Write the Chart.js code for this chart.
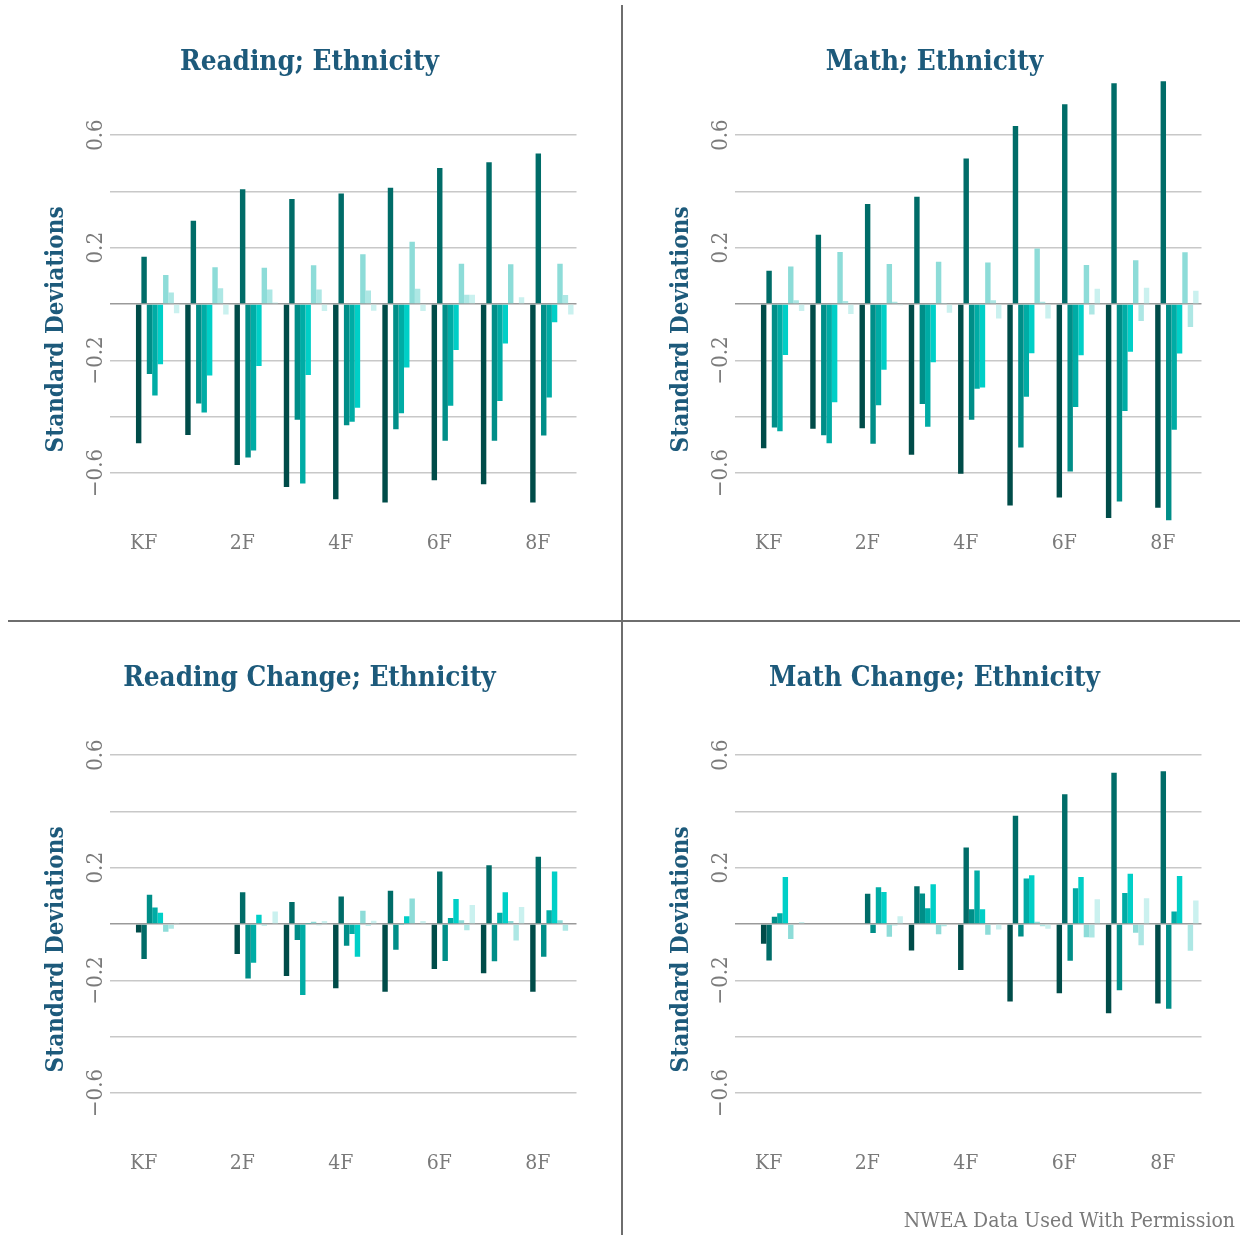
<!DOCTYPE html>
<html><head><meta charset="utf-8">
<script src="https://cdn.jsdelivr.net/npm/chart.js@4.4.1/dist/chart.umd.min.js"></script>
<style>
html,body{margin:0;padding:0;background:#fff;width:1244px;height:1235px;overflow:hidden;position:relative}
canvas{position:absolute}
.vline{position:absolute;left:621px;top:5px;width:2px;height:1230px;background:#6e6e6e;z-index:5}
.hline{position:absolute;left:8px;top:620px;width:1232px;height:2px;background:#6e6e6e;z-index:5}
.credit{position:absolute;right:9px;top:1208px;font-family:"DejaVu Serif Condensed","DejaVu Serif",serif;font-size:21px;color:#7a7a7a;white-space:nowrap}
</style></head><body>
<canvas id="c1" width="619" height="620" style="left:0;top:0"></canvas>
<canvas id="c2" width="619" height="620" style="left:625px;top:0"></canvas>
<canvas id="c3" width="619" height="620" style="left:0;top:620px"></canvas>
<canvas id="c4" width="619" height="620" style="left:625px;top:620px"></canvas>
<div class="vline"></div><div class="hline"></div>
<div class="credit">NWEA Data Used With Permission</div>
<script>
const categories = ['KF','1F','2F','3F','4F','5F','6F','7F','8F'];
const seriesNames = ['Group 1','Group 2','Group 3','Group 4','Group 5','Group 6','Group 7','Group 8'];
const seriesColors = ['#004c49','#006c68','#008e88','#00aca5','#00cfc7','#8ddcd8','#ade7e4','#caf1ef'];
const gridValues = [-0.6,-0.4,-0.2,0,0.2,0.4,0.6];
const labeledTicks = [-0.6,-0.2,0.2,0.6];

const readingEthnicity = [
  [-0.494,-0.465,-0.572,-0.650,-0.693,-0.705,-0.626,-0.640,-0.705],
  [0.168,0.296,0.408,0.373,0.393,0.413,0.483,0.504,0.535],
  [-0.248,-0.353,-0.545,-0.411,-0.430,-0.445,-0.485,-0.485,-0.467],
  [-0.325,-0.385,-0.520,-0.637,-0.418,-0.388,-0.361,-0.344,-0.332],
  [-0.214,-0.254,-0.220,-0.252,-0.368,-0.225,-0.163,-0.140,-0.065],
  [0.103,0.131,0.129,0.138,0.177,0.221,0.143,0.141,0.143],
  [0.041,0.056,0.052,0.052,0.048,0.054,0.033,0.000,0.032],
  [-0.033,-0.037,0.006,-0.025,-0.024,-0.025,0.033,0.024,-0.037]
];
const mathEthnicity = [
  [-0.512,-0.443,-0.441,-0.535,-0.603,-0.715,-0.687,-0.760,-0.723],
  [0.118,0.246,0.355,0.381,0.517,0.632,0.710,0.784,0.791],
  [-0.438,-0.466,-0.496,-0.355,-0.411,-0.509,-0.595,-0.701,-0.768],
  [-0.452,-0.494,-0.359,-0.436,-0.301,-0.329,-0.366,-0.380,-0.446],
  [-0.181,-0.349,-0.233,-0.207,-0.296,-0.175,-0.182,-0.169,-0.176],
  [0.133,0.185,0.142,0.150,0.148,0.197,0.139,0.156,0.184],
  [0.014,0.011,0.008,0.004,0.014,0.008,-0.037,-0.060,-0.081],
  [-0.025,-0.035,-0.004,-0.031,-0.051,-0.051,0.054,0.058,0.047]
];
const readingChange = [
  [-0.030,null,-0.106,-0.184,-0.228,-0.240,-0.160,-0.175,-0.240],
  [-0.124,null,0.113,0.078,0.098,0.118,0.187,0.209,0.239],
  [0.104,null,-0.193,-0.057,-0.077,-0.091,-0.131,-0.132,-0.116],
  [0.059,null,-0.137,-0.252,-0.035,-0.003,0.022,0.040,0.049],
  [0.040,null,0.033,0.004,-0.116,0.028,0.089,0.113,0.187],
  [-0.027,null,-0.005,0.008,0.047,0.091,0.014,0.011,0.014],
  [-0.017,null,0.000,-0.004,-0.006,0.000,-0.022,-0.058,-0.024],
  [0.004,null,0.045,0.011,0.012,0.011,0.068,0.061,0.000]
];
const mathChange = [
  [-0.070,null,0.003,-0.094,-0.163,-0.275,-0.246,-0.317,-0.282],
  [-0.129,null,0.108,0.134,0.272,0.385,0.461,0.537,0.543],
  [0.026,null,-0.032,0.109,0.053,-0.044,-0.130,-0.235,-0.301],
  [0.038,null,0.131,0.056,0.190,0.162,0.127,0.110,0.045],
  [0.167,null,0.114,0.141,0.053,0.173,0.167,0.179,0.171],
  [-0.053,null,-0.045,-0.036,-0.038,0.008,-0.047,-0.031,0.000],
  [0.000,null,-0.005,-0.008,0.000,-0.008,-0.048,-0.075,-0.095],
  [0.007,null,0.028,0.000,-0.019,-0.017,0.088,0.092,0.084]
];

const titleColor = '#1d5a7b';
const titleFont = "'DejaVu Serif Condensed','DejaVu Serif',serif";
const tickFont = "'DejaVu Serif Condensed','DejaVu Serif',serif";
const tickColor = '#7a7a7a';

function fmt(v){ const s = Math.abs(v).toFixed(1); return v < 0 ? '\u2212' + s : s; }

function makeChart(id, series, title, titleTop) {
  new Chart(document.getElementById(id), {
    type: 'bar',
    data: {
      labels: categories,
      datasets: series.map((d, i) => ({
        label: seriesNames[i], data: d, backgroundColor: seriesColors[i],
        borderWidth: 0, categoryPercentage: 0.88, barPercentage: 1
      }))
    },
    options: {
      responsive: false, animation: false, devicePixelRatio: 1,
      layout: { padding: { left: 42.5, right: 42.5, top: 0, bottom: 40 } },
      plugins: {
        legend: { display: false }, tooltip: { enabled: false },
        title: { display: true, text: title, color: titleColor,
          font: { family: titleFont, size: 27.6, weight: 'bold', lineHeight: 1.2 },
          padding: { top: titleTop, bottom: 78.8 - titleTop - 33.1 } }
      },
      scales: {
        x: {
          grid: { display: false, drawTicks: false }, border: { display: false },
          ticks: { autoSkip: false, maxRotation: 0, minRotation: 0, mirror: true, padding: 24, labelOffset: -14,
            color: tickColor, font: { family: tickFont, size: 21 },
            callback: (v, i) => (i % 2 === 0 ? categories[i] : '') },
          afterFit: s => { s.height = 0; }
        },
        y: {
          min: -0.98, max: 0.8,
          afterBuildTicks: s => { s.ticks = gridValues.map(v => ({ value: v })); },
          grid: { color: c => (c.tick && c.tick.value === 0 ? '#9a9a9a' : '#c8c8c8'), lineWidth: 1.5, tickLength: 23, drawTicks: true },
          border: { display: false },
          ticks: { minRotation: 90, maxRotation: 90, crossAlign: 'center', padding: -10.5,
            color: tickColor, font: { family: tickFont, size: 22 },
            callback: v => (labeledTicks.some(t => Math.abs(t - v) < 1e-9) ? fmt(v) : '') },
          title: { display: true, text: 'Standard Deviations', color: titleColor,
            font: { family: titleFont, size: 24, weight: 'bold', lineHeight: 1.2 }, padding: { top: 0, bottom: 0 } },
          afterFit: s => { s.width = 90.5; }
        }
      }
    }
  });
}
makeChart('c1', readingEthnicity, 'Reading; Ethnicity', 46);
makeChart('c2', mathEthnicity, 'Math; Ethnicity', 46);
makeChart('c3', readingChange, 'Reading Change; Ethnicity', 42);
makeChart('c4', mathChange, 'Math Change; Ethnicity', 42);
</script>
</body></html>
